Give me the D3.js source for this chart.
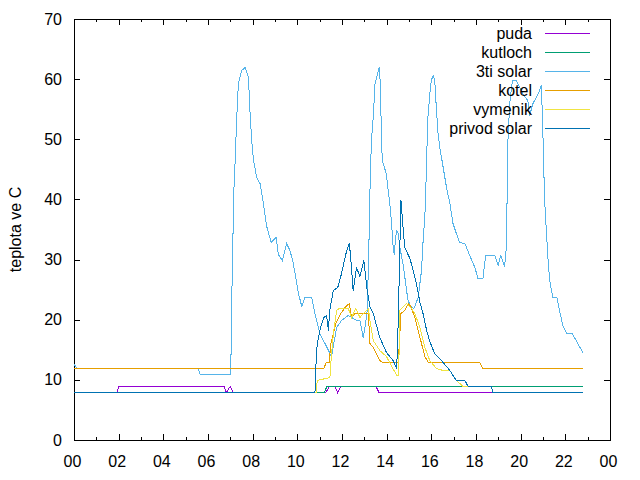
<!DOCTYPE html>
<html>
<head>
<meta charset="utf-8">
<script src="https://cdn.jsdelivr.net/npm/d3@7"></script>
<style>
  body { margin: 0; background: #fff; }
  text { font-family: "Liberation Sans", Arial, sans-serif; font-size: 16px; fill: #000; }
</style>
</head>
<body>
<div id="chart"></div>
<script>
// Series as [hour, temperature] pairs
const puda = [[0,8],[1.93,8],[2.0,9],[6.73,9],[6.82,8],[6.99,9],[7.14,8],[11.28,8],[11.43,9],[11.68,9],[11.80,8],[11.95,9],[13.52,9],[13.66,8],[22.78,8]];

const kutloch = [[0,8],[11.21,8],[11.32,9],[22.78,9]];

const tretiSolar = [[0,12.6],[0.16,12],[5.56,12],[5.65,11],[7.02,11],[7.06,23.3],[7.11,31.6],[7.14,39.9],[7.21,46],[7.29,53.8],[7.36,59.3],[7.51,61.5],[7.66,62],[7.81,60.4],[7.89,53.8],[7.97,49.3],[8.04,46.6],[8.18,43.8],[8.33,42.7],[8.48,39.4],[8.63,35.5],[8.83,33],[9.05,33.8],[9.15,31],[9.33,29.9],[9.52,32.8],[9.67,31.6],[9.82,29.4],[10.05,24.4],[10.20,22.2],[10.34,23.8],[10.64,23.8],[10.79,21.1],[11.02,17.7],[11.24,16.1],[11.46,14.4],[11.53,14],[11.76,18.8],[11.98,20],[12.28,20.8],[12.65,20],[12.80,20],[12.95,17.2],[13.03,18.8],[13.13,21.6],[13.22,34.9],[13.27,44.9],[13.33,50.4],[13.40,53.8],[13.48,59.3],[13.55,60.4],[13.66,62.1],[13.72,59.3],[13.77,49.3],[13.81,46.6],[13.99,44.3],[14.07,41.6],[14.14,39.4],[14.22,36],[14.29,32.1],[14.34,31],[14.40,33.8],[14.46,34.9],[14.52,34.4],[14.59,32.1],[14.73,29.4],[14.81,27.2],[14.89,24.9],[14.96,23.3],[15.08,22.2],[15.22,22],[15.41,23.8],[15.56,28.3],[15.64,33.8],[15.71,37],[15.76,42.7],[15.81,49.3],[15.85,53.8],[15.93,57.6],[16.00,59.9],[16.08,60.7],[16.15,60],[16.23,54.9],[16.30,51],[16.38,48.8],[16.53,45.4],[16.68,42.1],[16.83,39.4],[16.97,36],[17.12,34.4],[17.27,33],[17.50,32.8],[17.72,30.8],[17.95,28.8],[18.09,26.9],[18.31,26.9],[18.43,30.8],[18.84,30.8],[18.99,29.1],[19.11,30.8],[19.28,28.9],[19.36,32.1],[19.43,49.9],[19.51,56],[19.63,59.9],[19.81,59.9],[19.96,58.7],[20.11,57.6],[20.32,56.5],[20.40,54],[20.55,56],[20.77,57.6],[20.93,59],[21.00,50.4],[21.07,40],[21.15,34.9],[21.22,30.5],[21.30,26.6],[21.44,23.8],[21.62,23.8],[21.74,21.6],[21.89,19.1],[22.07,17.8],[22.31,17.8],[22.56,16.1],[22.78,14.7]];

const kotel = [[0,12],[11.19,12],[11.29,13],[11.43,13],[11.50,16.1],[11.72,19.4],[11.95,21.1],[12.17,22.2],[12.33,22.8],[12.43,20.5],[12.57,21.1],[13.18,21.1],[13.25,16.1],[13.40,15.5],[13.69,13.3],[13.84,13],[14.52,13],[14.64,21.1],[14.81,21.6],[14.96,22.8],[15.08,22.2],[15.26,20.5],[15.41,18.3],[15.56,16.1],[15.71,13.9],[15.86,13],[18.17,13],[18.30,12],[22.78,12]];

const vymenik = [[0,8],[10.84,8],[10.89,10],[11.46,10.5],[11.51,13.3],[11.61,17.7],[11.76,21.6],[11.88,21.9],[12.28,21.9],[12.43,20.5],[12.62,21.9],[12.80,20.5],[13.18,21.9],[13.25,20],[13.40,16.6],[13.69,15],[13.99,13.9],[14.45,10.8],[14.54,10.8],[14.58,21.6],[14.89,22.7],[15.11,21.9],[15.26,21.1],[15.49,18.8],[15.71,15.5],[15.93,13.3],[16.23,11.9],[16.53,11.6],[16.83,11.6],[17.13,10],[17.42,9],[18.70,9],[18.75,8],[22.78,8]];

const privodSolar = [[0,8],[10.79,8],[10.84,13],[10.89,16.1],[11.04,18.8],[11.19,20.5],[11.31,20.8],[11.39,18.3],[11.45,21.6],[11.61,24.9],[11.81,25.5],[11.98,27.7],[12.21,31.6],[12.33,32.8],[12.40,29.9],[12.50,24.9],[12.65,28.7],[12.80,27.2],[12.98,29.9],[13.13,24.9],[13.25,22.2],[13.40,21.1],[13.69,17.2],[13.99,14.7],[14.29,13.3],[14.45,11.9],[14.52,20],[14.59,32.1],[14.64,39.9],[14.72,36],[14.81,32.1],[15.04,30.2],[15.19,28.3],[15.34,26],[15.49,23],[15.64,21],[15.78,18.5],[15.93,16.5],[16.15,14.5],[16.45,13.3],[16.83,11.6],[17.12,10],[17.50,10],[17.65,9],[18.70,9],[18.75,8],[22.78,8]];

const seriesNames = ["puda", "kutloch", "3ti solar", "kotel", "vymenik", "privod solar"];
const seriesColors = ["#9400d3", "#009e73", "#56b4e9", "#e69f00", "#f0e442", "#0072b2"];
const xTicks = [0, 2, 4, 6, 8, 10, 12, 14, 16, 18, 20, 22, 24];
const xMinorTicks = [1, 3, 5, 7, 9, 11, 13, 15, 17, 19, 21, 23];
const yTicks = [0, 10, 20, 30, 40, 50, 60, 70];
const yLabel = "teplota ve C";

const allSeries = [puda, kutloch, tretiSolar, kotel, vymenik, privodSolar];

// Plot box
const width = 640, height = 480;
const plotLeft = 74, plotRight = 610, plotTop = 19, plotBottom = 440;

const svg = d3.select("#chart").append("svg")
  .attr("width", width)
  .attr("height", height);

const x = d3.scaleLinear().domain([0, 24]).range([plotLeft, plotRight]);
const y = d3.scaleLinear().domain([0, 70]).range([plotBottom, plotTop]);

const majorLen = 6, minorLen = 3;

// Bottom axis with inward ticks, labels as hours "00".."22","00"
const xAxis = svg.append("g")
  .attr("transform", `translate(0,${plotBottom})`)
  .call(d3.axisBottom(x).tickValues(xTicks).tickSizeInner(-majorLen).tickSizeOuter(0)
    .tickFormat((d) => String(d % 24).padStart(2, "0")));
xAxis.select(".domain").remove();
xAxis.selectAll(".tick text").attr("dy", "0.35em").attr("y", 21).attr("dx", -2);

svg.append("g")
  .attr("transform", `translate(0,${plotBottom})`)
  .call(d3.axisBottom(x).tickValues(xMinorTicks).tickSize(-minorLen).tickFormat(""))
  .select(".domain").remove();

// Top mirror ticks
svg.append("g")
  .attr("transform", `translate(0,${plotTop})`)
  .call(d3.axisTop(x).tickValues(xTicks).tickSize(-majorLen).tickFormat(""))
  .select(".domain").remove();
svg.append("g")
  .attr("transform", `translate(0,${plotTop})`)
  .call(d3.axisTop(x).tickValues(xMinorTicks).tickSize(-minorLen).tickFormat(""))
  .select(".domain").remove();

// Left axis with labels
const yAxis = svg.append("g")
  .attr("transform", `translate(${plotLeft},0)`)
  .call(d3.axisLeft(y).tickValues(yTicks).tickSizeInner(-majorLen).tickSizeOuter(0));
yAxis.select(".domain").remove();
yAxis.selectAll(".tick text").attr("x", -12);

// Right mirror ticks
svg.append("g")
  .attr("transform", `translate(${plotRight},0)`)
  .call(d3.axisRight(y).tickValues(yTicks).tickSize(-majorLen).tickFormat(""))
  .select(".domain").remove();

svg.selectAll(".tick line").attr("stroke", "#000").attr("shape-rendering", "crispEdges");
svg.selectAll(".tick text").style("font-size", "16px").style("font-family", "'Liberation Sans', Arial, sans-serif");

// Frame around the plot
svg.append("rect")
  .attr("x", plotLeft + 0.5)
  .attr("y", plotTop + 0.5)
  .attr("width", plotRight - plotLeft)
  .attr("height", plotBottom - plotTop)
  .attr("fill", "none")
  .attr("stroke", "#000")
  .attr("shape-rendering", "crispEdges");

// Y label
svg.append("text")
  .attr("transform", `translate(15,${(plotTop + plotBottom) / 2}) rotate(-90)`)
  .attr("text-anchor", "middle")
  .attr("dominant-baseline", "central")
  .text(yLabel);

// Lines, drawn aliased like the original; y snapped to pixel centres
// so that overlapping flat segments land on the same row
const line = d3.line()
  .x((d) => x(d[0]))
  .y((d) => Math.round(y(d[1])) + 0.5);

svg.selectAll(".series")
  .data(allSeries)
  .enter()
  .append("path")
  .attr("class", "series")
  .attr("d", line)
  .attr("fill", "none")
  .attr("stroke", (d, i) => seriesColors[i])
  .attr("stroke-width", 1)
  .attr("shape-rendering", "crispEdges");

// Legend, top right
const legend = svg.selectAll(".legend")
  .data(seriesNames)
  .enter()
  .append("g")
  .attr("class", "legend")
  .attr("transform", (d, i) => `translate(0,${33 + i * 19})`);

legend.append("text")
  .attr("x", 532)
  .attr("dy", "0.35em")
  .attr("text-anchor", "end")
  .text((d) => d);

legend.append("line")
  .attr("x1", 545)
  .attr("x2", 590)
  .attr("y1", 0.5)
  .attr("y2", 0.5)
  .attr("stroke", (d, i) => seriesColors[i])
  .attr("stroke-width", 1)
  .attr("shape-rendering", "crispEdges");
</script>
</body>
</html>
